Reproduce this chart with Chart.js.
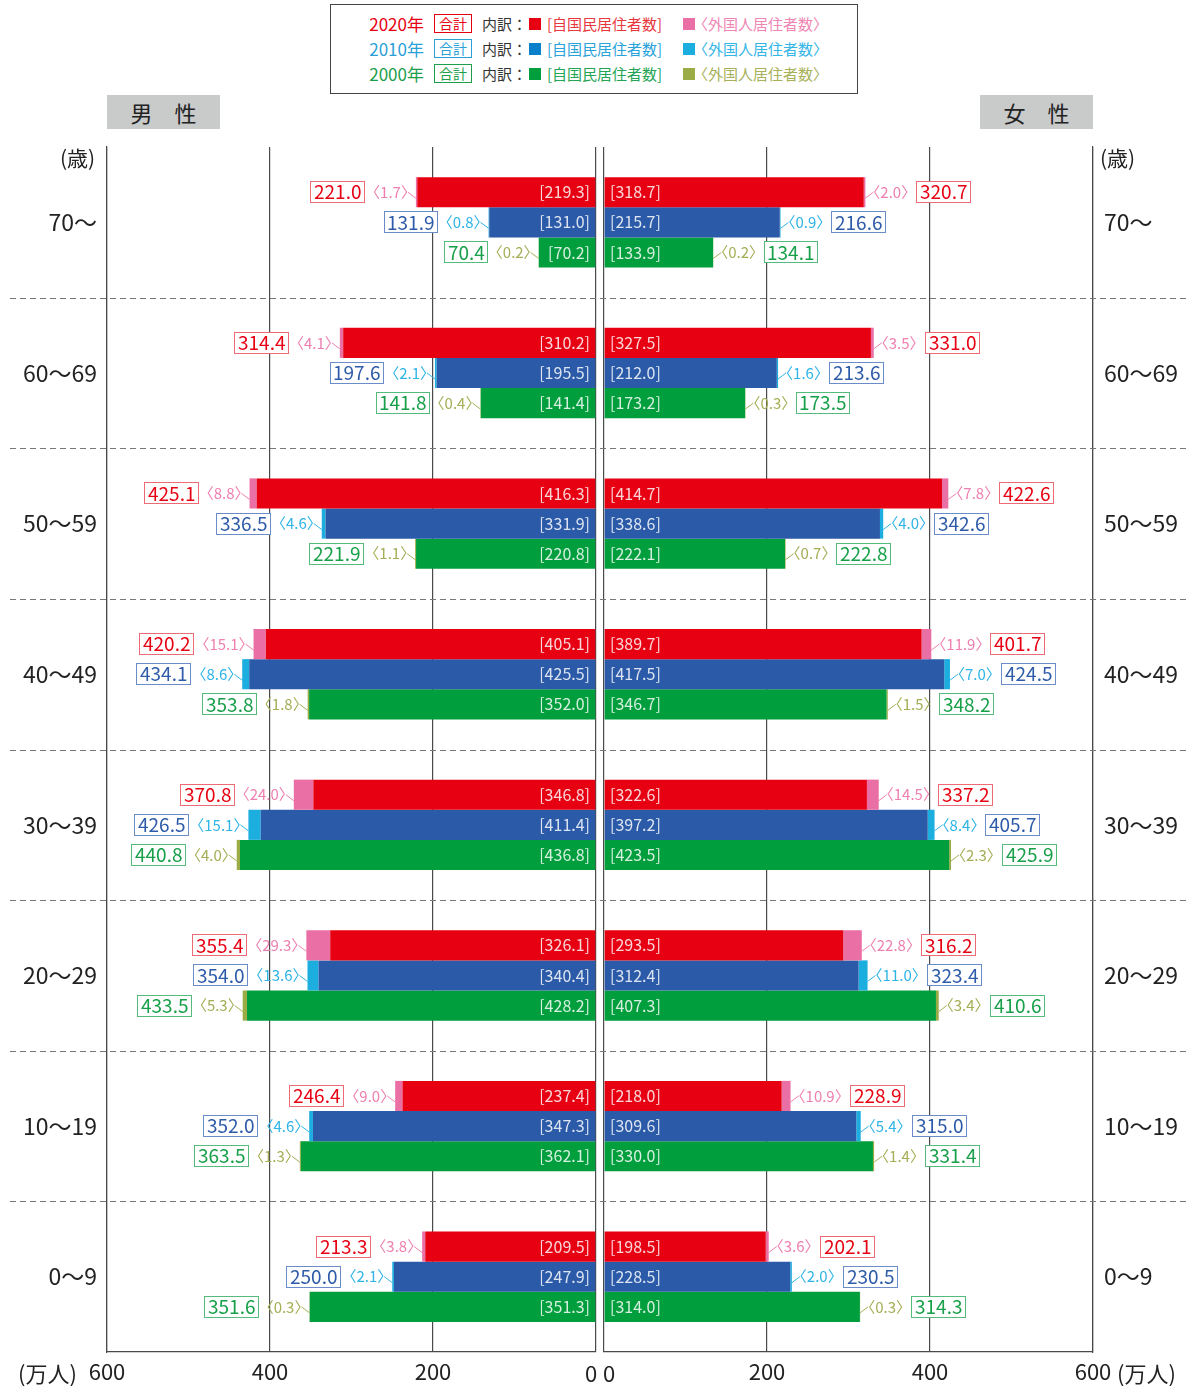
<!DOCTYPE html>
<html lang="ja">
<head>
<meta charset="utf-8">
<title>年齢階級別人口（男女別）</title>
<script src="https://cdn.jsdelivr.net/npm/chart.js@4.4.1/dist/chart.umd.min.js"></script>
<style>
  html, body { margin: 0; padding: 0; background: #fff; }
  #wrap { position: relative; width: 1190px; height: 1386px; font-family: "Noto Sans CJK JP", "Noto Sans", sans-serif; color: #222; }
  canvas { position: absolute; top: 0; }
  .txt { position: absolute; white-space: nowrap; z-index: 2; }
  .legend { position: absolute; left: 330px; top: 4px; width: 526px; height: 88px; border: 1px solid #444; z-index: 2; background: #fff; }
  .legend span { position: absolute; height: 20px; line-height: 20px; font-size: 15px; white-space: nowrap; }
  .legend .yr { left: 26px; width: 67px; text-align: right; font-size: 17px; }
  .legend .sum { left: 103px; width: 36px; height: 17px; line-height: 17px; font-size: 14px; text-align: center; border: 1px solid; }
  .legend .bd { left: 151px; color: #333; }
  .legend .sq1 { left: 198px; width: 12px; height: 12px; }
  .legend .lb1 { left: 216px; }
  .legend .sq2 { left: 352px; width: 12px; height: 12px; }
  .legend .lb2 { left: 362px; }
  .sex { position: absolute; top: 95px; width: 113px; height: 34px; line-height: 34px; background: #c9caca; text-align: center; font-size: 22px; z-index: 2; }
</style>
</head>
<body>
<div id="wrap">
  <canvas id="maleChart" width="600" height="1386" style="left:0;width:600px;height:1386px"></canvas>
  <canvas id="femaleChart" width="590" height="1386" style="left:600px;width:590px;height:1386px"></canvas>

  <div class="legend">
    <span class="yr" style="top:9px;color:#e60012">2020年</span>
    <span class="sum" style="top:9px;color:#e60012;border-color:#e60012">合計</span>
    <span class="bd" style="top:9px">内訳：</span>
    <span class="sq1" style="top:13px;background:#e60012"></span>
    <span class="lb1" style="top:9px;color:#e8383d">[自国民居住者数]</span>
    <span class="sq2" style="top:13px;background:#ea6fa5"></span>
    <span class="lb2" style="top:9px;color:#ef85b3">〈外国人居住者数〉</span>

    <span class="yr" style="top:34px;color:#2a9fd8">2010年</span>
    <span class="sum" style="top:34px;color:#2a9fd8;border-color:#2a9fd8">合計</span>
    <span class="bd" style="top:34px">内訳：</span>
    <span class="sq1" style="top:38px;background:#0a80cb"></span>
    <span class="lb1" style="top:34px;color:#2aa2da">[自国民居住者数]</span>
    <span class="sq2" style="top:38px;background:#1daee0"></span>
    <span class="lb2" style="top:34px;color:#33b5e6">〈外国人居住者数〉</span>

    <span class="yr" style="top:59px;color:#1c9e4a">2000年</span>
    <span class="sum" style="top:59px;color:#1c9e4a;border-color:#1c9e4a">合計</span>
    <span class="bd" style="top:59px">内訳：</span>
    <span class="sq1" style="top:63px;background:#009e3c"></span>
    <span class="lb1" style="top:59px;color:#24a455">[自国民居住者数]</span>
    <span class="sq2" style="top:63px;background:#9bab45"></span>
    <span class="lb2" style="top:59px;color:#a7b15a">〈外国人居住者数〉</span>
  </div>

  <div class="sex" style="left:107px">男　性</div>
  <div class="sex" style="left:980px">女　性</div>

  <div class="txt" style="left:60px;top:142px;font-size:21px;line-height:30px">(歳)</div>
  <div class="txt" style="left:1100px;top:142px;font-size:21px;line-height:30px">(歳)</div>
  <div class="txt" style="left:18px;top:1357px;font-size:22px;line-height:30px">(万人)</div>
  <div class="txt" style="left:1117px;top:1357px;font-size:22px;line-height:30px">(万人)</div>
</div>

<script>
// 年齢階級（上から）
const ageGroups = ['70～', '60～69', '50～59', '40～49', '30～39', '20～29', '10～19', '0～9'];
const years = ['2020年', '2010年', '2000年'];
const xTicks = [0, 200, 400, 600];

// 男性（万人）
const male2020Domestic = [219.3, 310.2, 416.3, 405.1, 346.8, 326.1, 237.4, 209.5];
const male2020Foreign  = [1.7, 4.1, 8.8, 15.1, 24.0, 29.3, 9.0, 3.8];
const male2020Total    = [221.0, 314.4, 425.1, 420.2, 370.8, 355.4, 246.4, 213.3];
const male2010Domestic = [131.0, 195.5, 331.9, 425.5, 411.4, 340.4, 347.3, 247.9];
const male2010Foreign  = [0.8, 2.1, 4.6, 8.6, 15.1, 13.6, 4.6, 2.1];
const male2010Total    = [131.9, 197.6, 336.5, 434.1, 426.5, 354.0, 352.0, 250.0];
const male2000Domestic = [70.2, 141.4, 220.8, 352.0, 436.8, 428.2, 362.1, 351.3];
const male2000Foreign  = [0.2, 0.4, 1.1, 1.8, 4.0, 5.3, 1.3, 0.3];
const male2000Total    = [70.4, 141.8, 221.9, 353.8, 440.8, 433.5, 363.5, 351.6];

// 女性（万人）
const female2020Domestic = [318.7, 327.5, 414.7, 389.7, 322.6, 293.5, 218.0, 198.5];
const female2020Foreign  = [2.0, 3.5, 7.8, 11.9, 14.5, 22.8, 10.9, 3.6];
const female2020Total    = [320.7, 331.0, 422.6, 401.7, 337.2, 316.2, 228.9, 202.1];
const female2010Domestic = [215.7, 212.0, 338.6, 417.5, 397.2, 312.4, 309.6, 228.5];
const female2010Foreign  = [0.9, 1.6, 4.0, 7.0, 8.4, 11.0, 5.4, 2.0];
const female2010Total    = [216.6, 213.6, 342.6, 424.5, 405.7, 323.4, 315.0, 230.5];
const female2000Domestic = [133.9, 173.2, 222.1, 346.7, 423.5, 407.3, 330.0, 314.0];
const female2000Foreign  = [0.2, 0.3, 0.7, 1.5, 2.3, 3.4, 1.4, 0.3];
const female2000Total    = [134.1, 173.5, 222.8, 348.2, 425.9, 410.6, 331.4, 314.3];

// 年ごとの配色
const palette = [
  { dom: '#e60012', frn: '#ea6fa5', frnText: '#ee80b1', totText: '#e60012', totBorder: '#ee6a74' },
  { dom: '#2b5aa8', frn: '#1daee0', frnText: '#2fb4e6', totText: '#2d5ba9', totBorder: '#6a8cc8' },
  { dom: '#009e3c', frn: '#9bab45', frnText: '#a5ae55', totText: '#17a049', totBorder: '#55bb7b' }
];

const FONT = '"Noto Sans CJK JP", "Noto Sans", sans-serif';

function buildDatasets(sets) {
  const out = [];
  sets.forEach((s, k) => {
    out.push({ label: years[k] + ' 自国民居住者数', data: s.dom, backgroundColor: palette[k].dom, stack: years[k], totals: s.tot, borderWidth: 0 });
    out.push({ label: years[k] + ' 外国人居住者数', data: s.frn, backgroundColor: palette[k].frn, stack: years[k], borderWidth: 0 });
  });
  return out;
}

// 年齢階級の区切り（破線）
const separatorPlugin = {
  id: 'separators',
  beforeDatasetsDraw(chart, args, opts) {
    const { ctx } = chart;
    const ys = chart.scales.y;
    ctx.save();
    ctx.strokeStyle = '#777';
    ctx.lineWidth = 1;
    ctx.setLineDash([6, 4]);
    for (let i = 1; i < ageGroups.length; i++) {
      const y = Math.round((ys.getPixelForValue(i - 1) + ys.getPixelForValue(i)) / 2) + 0.5;
      ctx.beginPath();
      ctx.moveTo(opts.from, y);
      ctx.lineTo(opts.to, y);
      ctx.stroke();
    }
    ctx.restore();
  }
};

// 棒の数値ラベル（内訳・外国人・合計）
const labelPlugin = {
  id: 'barLabels',
  afterDatasetsDraw(chart, args, opts) {
    const { ctx } = chart;
    const side = opts.side; // -1: 左向き（男性）, +1: 右向き（女性）
    const zero = chart.scales.x.getPixelForValue(0);
    ctx.save();
    ctx.textBaseline = 'middle';
    for (let k = 0; k < 3; k++) {
      const dsDom = chart.data.datasets[k * 2];
      const dsFrn = chart.data.datasets[k * 2 + 1];
      const metaDom = chart.getDatasetMeta(k * 2);
      const metaFrn = chart.getDatasetMeta(k * 2 + 1);
      const pal = palette[k];
      metaDom.data.forEach((bar, i) => {
        const cy = bar.y;
        const end = metaFrn.data[i].x;

        // 自国民居住者数 [ ]
        ctx.font = '16px ' + FONT;
        ctx.fillStyle = 'rgba(255,255,255,0.84)';
        ctx.textAlign = side < 0 ? 'right' : 'left';
        ctx.fillText('[' + dsDom.data[i].toFixed(1) + ']', zero + side * 6, cy);

        // 引き出し線
        ctx.strokeStyle = pal.frnText;
        ctx.lineWidth = 1;
        ctx.beginPath();
        ctx.moveTo(end, cy + 6);
        ctx.lineTo(end + side * 8, cy);
        ctx.stroke();

        // 外国人居住者数 〈 〉
        const fStr = '〈' + dsFrn.data[i].toFixed(1) + '〉';
        ctx.font = '15px ' + FONT;
        ctx.textAlign = 'left';
        const fm = ctx.measureText(fStr);
        let fx, fLeft, fRight;
        if (side < 0) {
          fRight = end - 8;
          fx = fRight - fm.actualBoundingBoxRight;
          fLeft = fx - fm.actualBoundingBoxLeft;
        } else {
          fLeft = end + 8;
          fx = fLeft + fm.actualBoundingBoxLeft;
          fRight = fx + fm.actualBoundingBoxRight;
        }
        ctx.fillStyle = pal.frnText;
        ctx.fillText(fStr, fx, cy);

        // 合計（枠付き）
        const total = dsDom.totals[i].toFixed(1);
        ctx.font = '19px ' + FONT;
        const tm = ctx.measureText(total);
        const tw = tm.actualBoundingBoxLeft + tm.actualBoundingBoxRight;
        const bw = Math.round(tw + 8), bh = 22;
        const bx = side < 0 ? Math.round(fLeft - 8 - bw) : Math.round(fRight + 8);
        const by = Math.round(cy - bh / 2);
        ctx.fillStyle = '#fff';
        ctx.fillRect(bx, by, bw, bh);
        ctx.strokeStyle = pal.totBorder;
        ctx.strokeRect(bx + 0.5, by + 0.5, bw - 1, bh - 1);
        ctx.fillStyle = pal.totText;
        ctx.fillText(total, bx + 4 + tm.actualBoundingBoxLeft, cy);
      });
    }
    // 原点の目盛ラベル
    ctx.font = '22px ' + FONT;
    ctx.fillStyle = '#222';
    ctx.textAlign = 'center';
    ctx.textBaseline = 'middle';
    ctx.fillText('0', zero + side * 5, chart.chartArea.bottom + 22);
    ctx.restore();
  }
};

function makeChart(id, sets, side) {
  const male = side < 0;
  return new Chart(document.getElementById(id), {
    type: 'bar',
    data: { labels: ageGroups, datasets: buildDatasets(sets) },
    plugins: [separatorPlugin, labelPlugin],
    options: {
      responsive: false,
      animation: false,
      indexAxis: 'y',
      categoryPercentage: 0.6,
      barPercentage: 1.0,
      layout: { padding: { top: 147, left: male ? 0 : 4, right: male ? 4 : 0, bottom: 0 } },
      plugins: {
        legend: { display: false },
        tooltip: { enabled: false },
        separators: { from: male ? 10 : 0, to: male ? 600 : 590 },
        barLabels: { side: side }
      },
      scales: {
        x: {
          type: 'linear',
          stacked: true,
          min: 0,
          max: 600,
          reverse: male,
          afterBuildTicks: (scale) => { scale.ticks = xTicks.map(v => ({ value: v })); },
          afterFit: (scale) => { scale.height = 34; scale.paddingLeft = 0; scale.paddingRight = 0; },
          grid: { color: '#4a4a4a', lineWidth: 1.2, drawTicks: false },
          border: { color: '#4a4a4a', width: 1.2 },
          ticks: {
            padding: 6,
            color: '#222',
            font: { family: FONT, size: 22 },
            callback: (v) => (v === 0 ? '' : String(v))
          }
        },
        y: {
          type: 'category',
          stacked: true,
          position: male ? 'left' : 'right',
          afterFit: (scale) => { scale.width = male ? 107 : 97; },
          grid: { display: false, drawTicks: false },
          border: { color: '#4a4a4a', width: 1.2 },
          ticks: {
            padding: male ? 10 : 11,
            color: '#222',
            font: { family: FONT, size: 23 }
          }
        }
      }
    }
  });
}

makeChart('maleChart', [
  { dom: male2020Domestic, frn: male2020Foreign, tot: male2020Total },
  { dom: male2010Domestic, frn: male2010Foreign, tot: male2010Total },
  { dom: male2000Domestic, frn: male2000Foreign, tot: male2000Total }
], -1);

makeChart('femaleChart', [
  { dom: female2020Domestic, frn: female2020Foreign, tot: female2020Total },
  { dom: female2010Domestic, frn: female2010Foreign, tot: female2010Total },
  { dom: female2000Domestic, frn: female2000Foreign, tot: female2000Total }
], 1);
</script>
</body>
</html>
